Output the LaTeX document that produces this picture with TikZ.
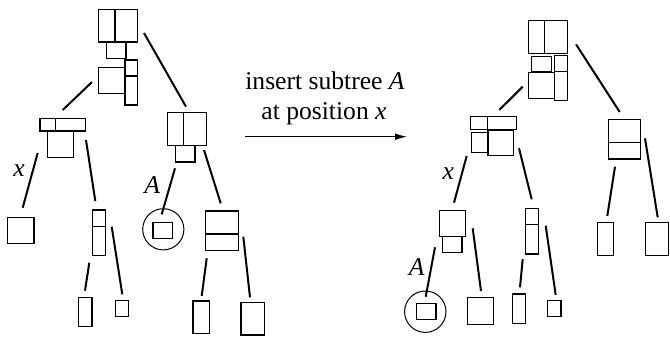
\documentclass[tikz,border=0pt]{standalone}
\usepackage{fontspec}
\setmainfont{Liberation Serif}
\usepackage{tikz}
\usetikzlibrary{arrows.meta}

\tikzset{
  blk/.style={draw,line width=0.55pt},
  twig/.style={line width=1pt},
  ring/.style={draw,line width=0.5pt},
  lbl/.style={font=\fontsize{12.8}{15}\selectfont\itshape},
}

\begin{document}
\begin{tikzpicture}[x=0.5pt,y=-0.5pt]
\useasboundingbox (0,0) rectangle (670,337);
% blocks of the tree before the insertion
\foreach \xa/\ya/\xb/\yb in {98.3/9.3/115/42,115/9.3/137.3/42,106.7/42/126/58.7,
  98.3/67.7/125/93.3,125/60/137.3/76,125/76/137.3/105,
  40/118.3/55.7/131,55.7/118.3/85.3/131,47.7/131/73.7/157.3,
  167.3/112.7/183.7/145.7,183.7/112.7/206.7/145.7,175.7/145.7/195/162,
  7.7/217.3/34/243.7,92.7/210/105.7/226.3,92.7/226.3/105.7/255.3,
  153/222.3/172.7/238.7,205.7/211/238.3/234,205.7/234/238.3/250.7,
  78.7/297.3/92/326.3,115.3/300.3/128.3/316.7,193/301/209.3/333.3,241/302.7/264.3/335}
  \draw[blk] (\xa,\ya) rectangle (\xb,\yb);
% blocks of the tree after the insertion
\foreach \xa/\ya/\xb/\yb in {528.3/20.7/544.7/53.3,544.7/20.7/567.7/53.3,
  531.7/56.3/551.3/72,554.7/55.7/567.7/71.3,528.3/72.3/554.7/98.7,554.7/71.3/567.7/100.7,
  470.7/116.7/487.3/129.7,487.3/116.7/516.3/129.7,471.7/132.7/488/152.3,488/130/513.3/155.7,
  608.3/119.3/640.7/142.3,608.3/142.3/640.7/159,
  439.3/210.7/465.3/236.3,442.3/236.3/462/252.3,
  416.7/303.3/436/319.3,467.3/297.7/493.3/324.3,
  525.7/208.3/538.7/224.3,525.7/224.3/538.7/254,
  512.3/294/525.7/323.3,547.7/300.7/561/316.7,
  597.3/222.7/613.7/255.3,645.7/222.7/668.7/255.3}
  \draw[blk] (\xa,\ya) rectangle (\xb,\yb);
% subtree A
\coordinate (subA) at (163.3,229.3);
\coordinate (subA') at (425.3,311.7);
\draw[ring] (subA) circle (20.6);
\draw[ring] (subA') circle (20.7);
% tree edges
\foreach \n/\xa/\ya/\xb/\yb in {lra/92/82/62.7/110,lrb/144/33/186/106.7,
  lax/37.7/153/22.7/207.7,lac/86/140/95.3/201,
  lbA/175/168.3/161.7/214.3,lbd/204/150/220.7/203.3,
  lcl/89.3/262.7/85/290.7,lcr/111.7/226.7/122.3/294.3,
  ldl/206.7/258.3/201.7/296,ldr/243.3/236.7/250/297.3,
  rra/522.7/86.7/499.3/110,rrb/576/44.3/619.7/112,
  rax/466.7/156/454/202.7,rac/519/148.3/531.7/199.3,
  reA/435/247.3/425.7/296.7,rel/472.7/228.3/481/291,
  rcl/522.7/259/520/287.3,rcr/545.7/225.7/555.7/295,
  rbl/615/166.7/607.3/216,rbr/645/138.3/657.7/217.3}
{
  \coordinate (\n-s) at (\xa,\ya);
  \coordinate (\n-t) at (\xb,\yb);
  \draw[twig] (\n-s) -- (\n-t);
}
% edge labels
\node[lbl] (xl) at (19,171) {x};
\node[lbl] (Al) at (152.3,185) {A};
\node[lbl] (xr) at (448.3,174) {x};
\node[lbl] (Ar) at (416.7,266.7) {A};
% operation
\node[anchor=base,font=\fontsize{12.8}{15}\selectfont] (op1) at (325,89.3) {insert subtree \textit{A}};
\node[anchor=base,font=\fontsize{12.8}{15}\selectfont] (op2) at (324,119.3) {at position \textit{x}};
\coordinate (go-s) at (245,136.7);
\coordinate (go-t) at (407,136.7);
\draw[line width=0.6pt,-{Latex[length=6pt,width=3.4pt]}] (go-s) -- (go-t);
\end{tikzpicture}
\end{document}
